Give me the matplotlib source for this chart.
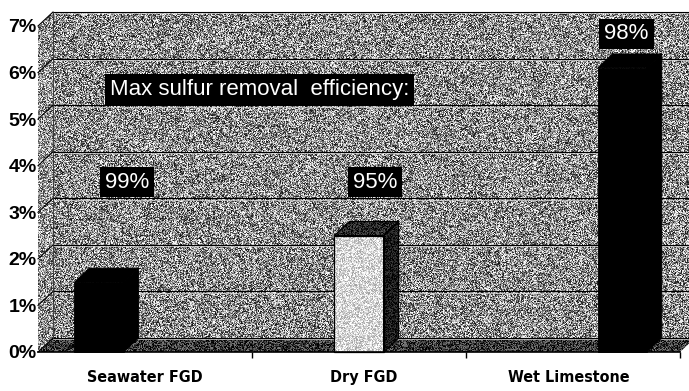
import numpy as np
import matplotlib
matplotlib.use("Agg")
from matplotlib import pyplot as plt
from matplotlib.patches import Polygon

# bar heights (%), one per scrubber type
categories = ["Seawater FGD", "Dry FGD", "Wet Limestone"]
values = [1.5, 2.5, 6.1]
efficiency = ["99%", "95%", "98%"]
note = "Max sulfur removal  efficiency:"
yticks = [0, 1, 2, 3, 4, 5, 6, 7]

# pixel geometry of the front plane (figure is 689 x 391 px)
W, H = 689, 391
X0, X1 = 38, 680          # left / right of front plane
Y0, Y7 = 352, 26          # 0% and 7% on front plane
DX = 15 / ((X1 - X0) / 3)  # depth offset, data units
DY = 14 / ((Y0 - Y7) / 7)

bar_x = [-0.215, 1.0, 2.23]       # bar centres (perspective shift)
bar_w = 0.23
label_x = [0.0, 1.02, 1.98]
box_pos = [(-0.084, 3.65), (1.075, 3.65), (2.25, 6.83)]

rng = np.random.default_rng(3)

fig = plt.figure(figsize=(W / 100, H / 100), dpi=100)
ax = fig.add_axes([X0 / W, (H - Y0) / H, (X1 - X0) / W, (Y0 - Y7) / H])
ax.set_facecolor("none")


def grain(verts, mean, spread, z):
    patch = Polygon(verts, closed=True, facecolor="none", edgecolor="none",
                    transform=ax.transData)
    ax.add_patch(patch)
    patch.set_clip_on(False)
    xs = [v[0] for v in verts]
    ys = [v[1] for v in verts]
    img = np.clip(mean + spread * (rng.random((340, 640)) - 0.5) * 2, 0, 1)
    im = ax.imshow(img, cmap="gray", vmin=0, vmax=1, interpolation="nearest",
                   extent=(min(xs), max(xs), min(ys), max(ys)), aspect="auto",
                   zorder=z)
    im.set_clip_box(fig.bbox)
    im.set_clip_path(patch)
    return im


xl, xr = -0.5, 2.5
# back wall, left wall, floor
grain([(xl + DX, DY), (xr + DX, DY), (xr + DX, 7 + DY), (xl + DX, 7 + DY)], 0.55, 0.48, 0)
grain([(xl, 0), (xl + DX, DY), (xl + DX, 7 + DY), (xl, 7)], 0.58, 0.45, 0)
grain([(xl, 0), (xr, 0), (xr + DX, DY), (xl + DX, DY)], 0.22, 0.3, 1)

# gridlines on the walls
for v in yticks:
    ax.plot([xl, xl + DX], [v, v + DY], color="black", lw=0.8, zorder=2, clip_on=False)
    ax.plot([xl + DX, xr + DX], [v + DY, v + DY], color="black", lw=0.8, zorder=2,
            clip_on=False)
    ax.plot([xl + DX, xr + DX], [v + DY - 0.03, v + DY - 0.03], color="#d8d8d8",
            lw=0.5, zorder=2, clip_on=False)
ax.plot([xl + DX, xl + DX], [DY, 7 + DY], color="#303030", lw=0.6, zorder=2, clip_on=False)

# bars as oblique boxes
face = ["black", None, "black"]
for i, v in enumerate(values):
    x0 = bar_x[i] - bar_w / 2
    x1 = x0 + bar_w
    front = [(x0, 0), (x1, 0), (x1, v), (x0, v)]
    top = [(x0, v), (x1, v), (x1 + DX, v + DY), (x0 + DX, v + DY)]
    side = [(x1, 0), (x1 + DX, DY), (x1 + DX, v + DY), (x1, v)]
    if face[i] == "black":
        for verts in (front, top, side):
            ax.add_patch(Polygon(verts, closed=True, facecolor="black",
                                 edgecolor="black", lw=0.6, zorder=3, clip_on=False))
    else:
        grain(side, 0.1, 0.15, 3)
        grain(top, 0.15, 0.2, 3)
        grain(front, 0.84, 0.22, 3)
        for verts in (front, top, side):
            ax.add_patch(Polygon(verts, closed=True, facecolor="none",
                                 edgecolor="black", lw=0.9, zorder=4, clip_on=False))

# efficiency notes
box = dict(boxstyle="square,pad=0.22", facecolor="black", edgecolor="none")
ax.text(-0.165, 5.64, note, color="white", fontsize=16, family="Liberation Sans",
        ha="left", va="center", bbox=box, zorder=6)
for (bx, by), s in zip(box_pos, efficiency):
    ax.text(bx, by, s, color="white", fontsize=16, family="Liberation Sans",
            ha="center", va="center", bbox=box, zorder=6)

ax.set_xlim(xl, xr)
ax.set_ylim(0, 7)

ax.set_yticks(yticks)
ax.set_yticklabels(["%d%%" % v for v in yticks], fontsize=14, fontweight="bold",
                   family="Liberation Sans")
ax.tick_params(axis="y", length=0, pad=1)

ax.set_xticks(label_x)
ax.set_xticklabels(categories, fontsize=11.5, fontweight="bold", fontstretch="condensed",
                   family="DejaVu Sans")
ax.tick_params(axis="x", length=0, pad=13)
ax.set_xticks([0.5, 1.5, 2.5], minor=True)
ax.tick_params(axis="x", which="minor", length=4, width=1, color="black")

for s in ("left", "top", "right"):
    ax.spines[s].set_visible(False)
ax.spines["bottom"].set_linewidth(1.2)
ax.spines["bottom"].set_zorder(5)

plt.savefig("out.png", dpi=100)
